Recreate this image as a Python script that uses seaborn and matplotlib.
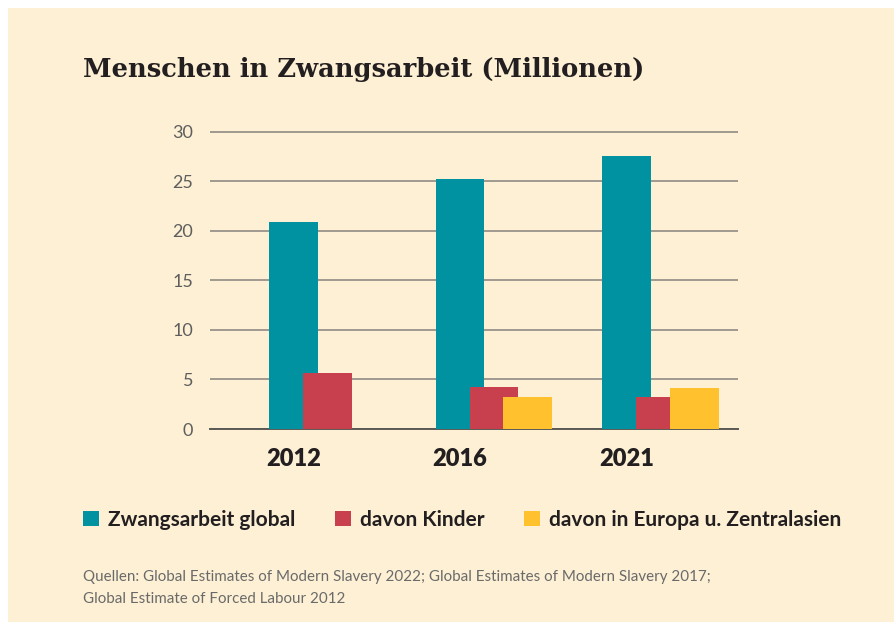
import numpy as np
import pandas as pd
import seaborn as sns
import matplotlib.pyplot as plt
from matplotlib.patches import Patch, Rectangle

# data (Millionen)
jahre = ["2012", "2016", "2021"]
serien = ["Zwangsarbeit global", "davon Kinder", "davon in Europa u. Zentralasien"]
global_werte = [20.9, 25.2, 27.6]
kinder_werte = [5.7, 4.2, 3.2]
europa_werte = [np.nan, 3.2, 4.1]
farben = ["#0092A0", "#C8404D", "#FFC12E"]

creme = "#FDF0D4"
sns.set_style("white")
plt.rcParams["font.family"] = ["Lato", "DejaVu Sans"]

fig = plt.figure(figsize=(8.95, 6.22), dpi=100, facecolor="white")
fig.patches.append(Rectangle((8 / 895, 0), 1, 1 - 8 / 622, transform=fig.transFigure,
                             facecolor=creme, edgecolor="none", zorder=-10))
ax = fig.add_axes([210 / 895, 1 - 429 / 622, 528 / 895, 298 / 622])
ax.set_facecolor(creme)
ax.patch.set_alpha(0)

# overlapping bars: each series shifted a bit to the right
versatz = 0.204
breite = 0.294
for k, werte in enumerate([global_werte, kinder_werte, europa_werte]):
    df = pd.DataFrame({"pos": np.arange(len(jahre)) + k * versatz, "wert": werte}).dropna()
    sns.barplot(data=df, x="pos", y="wert", native_scale=True, width=breite,
                color=farben[k], saturation=1, linewidth=0, ax=ax, zorder=3 + k)

ax.set_xlim(-0.502, 2.67)
ax.set_ylim(0, 30.08)
ax.set_yticks(range(0, 31, 5))
ax.set_xticks(range(len(jahre)))
ax.set_xticklabels(jahre, fontsize=17, fontweight="heavy", color="#231F20")
ax.tick_params(axis="y", length=0, pad=12, labelsize=13, labelcolor="#5E5E5E")
ax.tick_params(axis="x", length=0, pad=14)
ax.yaxis.grid(True, color="#8F8A84", linewidth=1.2, zorder=1)
ax.set_axisbelow(True)
for s in ["top", "right", "left"]:
    ax.spines[s].set_visible(False)
ax.spines["bottom"].set_color("#5B5955")
ax.spines["bottom"].set_linewidth(1.4)
ax.set_xlabel("")
ax.set_ylabel("")

fig.text(83 / 895, 1 - 77 / 622, "Menschen in Zwangsarbeit (Millionen)",
         family=["DejaVu Serif"], fontweight="bold", fontsize=18.5, color="#231F20")

handles = [Patch(facecolor=c, edgecolor="none") for c in farben]
leg = fig.legend(handles, serien, loc="center left", bbox_to_anchor=(83 / 895, 1 - 520 / 622),
                 ncol=3, frameon=False, borderpad=0, borderaxespad=0,
                 handlelength=0.75, handleheight=0.75,
                 handletextpad=0.45, columnspacing=1.9,
                 prop={"family": "Lato", "weight": "bold", "size": 15})
for t in leg.get_texts():
    t.set_color("#231F20")

fig.text(83 / 895, 1 - 577 / 622,
         "Quellen: Global Estimates of Modern Slavery 2022; Global Estimates of Modern Slavery 2017;",
         fontsize=10.9, color="#6A6A6A", va="center")
fig.text(83 / 895, 1 - 599 / 622, "Global Estimate of Forced Labour 2012",
         fontsize=10.9, color="#6A6A6A", va="center")

fig.savefig("out.png", dpi=100, facecolor=fig.get_facecolor())
